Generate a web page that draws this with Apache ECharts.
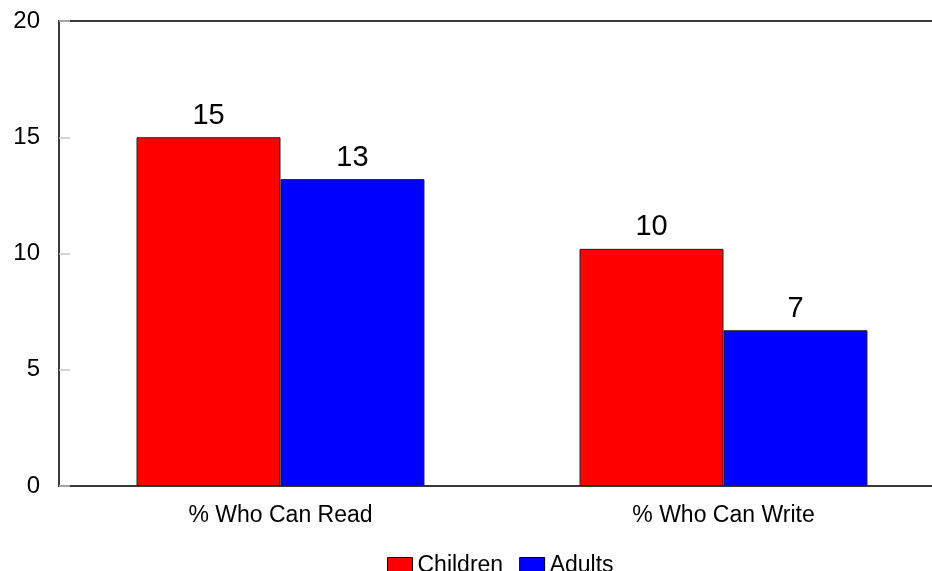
<!DOCTYPE html>
<html>
<head>
<meta charset="utf-8">
<script src="https://cdn.jsdelivr.net/npm/echarts@6/dist/echarts.min.js"></script>
<style>
  html, body { margin: 0; padding: 0; background: #fff; overflow: hidden; }
  /* the plot frame runs past the right edge of the window */
  #chart { width: 946px; height: 571px; }
</style>
</head>
<body>
<div id="chart"></div>
<script>
// Share of people who can read / write, by group
const categories = ['% Who Can Read', '% Who Can Write'];
const seriesNames = ['Children', 'Adults'];
const childrenValues = [15, 10.2];
const adultsValues = [13.2, 6.7];
const yTicks = [0, 5, 10, 15, 20];

const FONT = 'Liberation Sans, Arial, Helvetica, sans-serif';

const chart = echarts.init(document.getElementById('chart'), null, { renderer: 'canvas' });

const barLabel = {
  show: true,
  position: 'top',
  distance: 7,
  color: '#000',
  fontFamily: FONT,
  fontSize: 29,
  formatter: p => String(Math.round(p.value))
};

chart.setOption({
  animation: false,
  backgroundColor: '#fff',
  grid: {
    left: 59, top: 21, right: 1, height: 465,
    show: true,
    borderColor: '#3a3a3a',
    borderWidth: 2,
    backgroundColor: 'transparent'
  },
  legend: {
    data: seriesNames,
    left: 387,
    top: 554,
    padding: 0,
    icon: 'rect',
    itemWidth: 25,
    itemHeight: 16,
    itemGap: 16,
    textStyle: { fontFamily: FONT, fontSize: 23, lineHeight: 16, color: '#000' },
    itemStyle: { borderColor: '#000', borderWidth: 1 }
  },
  xAxis: {
    type: 'category',
    data: categories,
    axisLine: { show: true, lineStyle: { color: '#3a3a3a', width: 2 } },
    axisTick: { show: false },
    axisLabel: { fontFamily: FONT, fontSize: 23, color: '#000', margin: 18 }
  },
  yAxis: {
    type: 'value',
    min: yTicks[0],
    max: yTicks[yTicks.length - 1],
    interval: yTicks[1] - yTicks[0],
    splitLine: { show: false },
    axisLine: { show: true, lineStyle: { color: '#3a3a3a', width: 2 } },
    axisTick: { show: true, inside: true, length: 11, lineStyle: { color: '#c8c8c8', width: 1.5 } },
    axisLabel: { fontFamily: FONT, fontSize: 24, color: '#000', margin: 19 }
  },
  series: [
    {
      name: seriesNames[0],
      type: 'bar',
      data: childrenValues,
      barGap: '0%',
      barCategoryGap: '35%',
      itemStyle: { color: '#ff0000', borderColor: '#222', borderWidth: 1 },
      label: barLabel
    },
    {
      name: seriesNames[1],
      type: 'bar',
      data: adultsValues,
      barGap: '0%',
      barCategoryGap: '35%',
      itemStyle: { color: '#0000ff', borderColor: '#222', borderWidth: 1 },
      label: barLabel
    }
  ]
});
</script>
</body>
</html>
